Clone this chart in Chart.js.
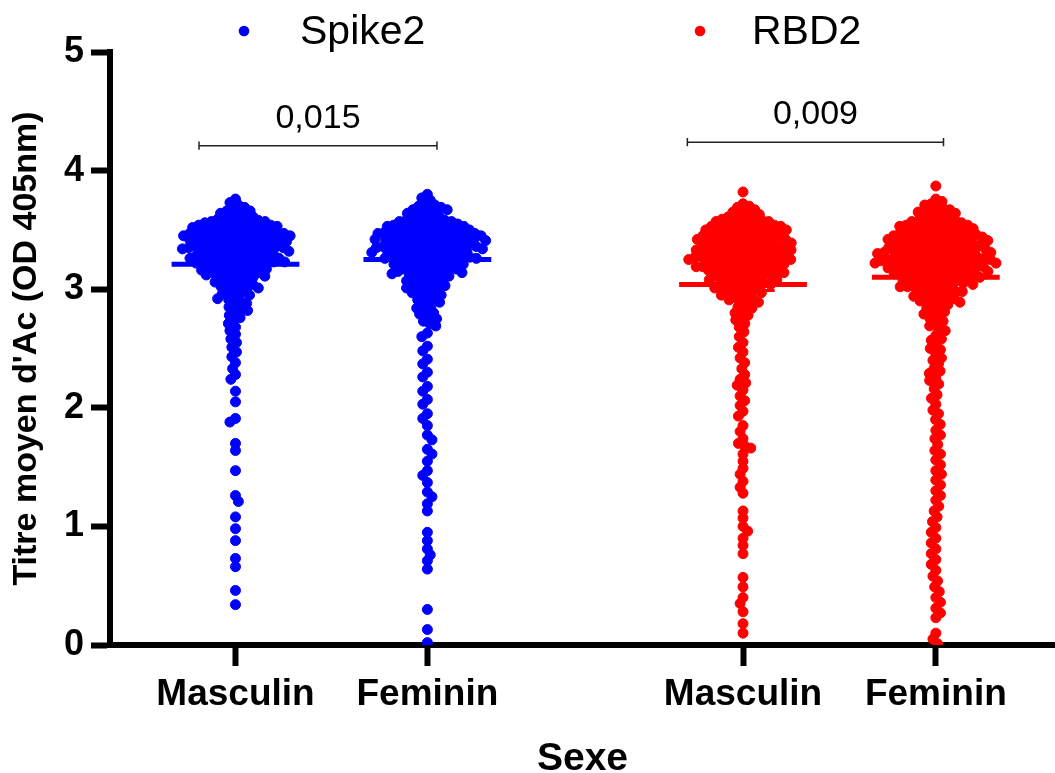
<!DOCTYPE html>
<html><head><meta charset="utf-8">
<script src="https://cdn.jsdelivr.net/npm/chart.js@4.4.1/dist/chart.umd.min.js"></script>
<style>html,body{margin:0;padding:0;background:#fff;overflow:hidden}#wrap{width:1055px;height:773px}</style>
</head><body><div id="wrap"><canvas id="c" width="1055" height="773"></canvas></div>
<script>
// ---------------- data ----------------
const categories = ['Masculin', 'Feminin', 'Masculin', 'Feminin'];
const seriesNames = ['Spike2', 'RBD2'];
const yAxisTitle = "Titre moyen d'Ac (OD 405nm)";
const xAxisTitle = 'Sexe';

const spikeMasc = [3.76,3.73,3.71,
3.69,3.68,3.66,3.66,3.65,3.64,3.63,3.62,3.61,3.60,
3.59,3.59,3.58,3.58,3.57,3.57,3.56,3.56,3.55,3.55,3.54,3.54,3.54,3.53,3.53,3.52,3.52,3.52,3.51,3.51,3.50,3.50,
3.49,3.49,3.49,3.48,3.48,3.48,3.47,3.47,3.47,3.46,3.46,3.46,3.45,3.45,3.45,3.44,3.44,3.44,3.43,3.43,3.43,3.42,3.42,3.42,3.41,3.41,3.41,3.40,3.40,
3.39,3.39,3.38,3.38,3.38,3.37,3.37,3.37,3.36,3.36,3.36,3.35,3.35,3.35,3.34,3.34,3.34,3.33,3.33,3.33,3.32,3.32,3.32,3.31,3.31,3.30,3.30,
3.29,3.29,3.28,3.28,3.28,3.27,3.27,3.27,3.26,3.26,3.26,3.25,3.25,3.25,3.24,3.24,3.23,3.23,3.23,3.22,3.22,3.21,3.21,3.21,3.20,
3.19,3.19,3.18,3.18,3.17,3.17,3.16,3.16,3.15,3.15,3.14,3.14,3.13,3.13,3.12,3.12,3.11,3.11,3.10,
3.09,3.08,3.07,3.06,3.06,3.05,3.04,3.03,3.02,3.02,3.01,3.00,
2.99,2.97,2.96,2.96,2.95,2.93,2.92,2.91,2.90,
2.88,2.86,2.85,2.83,2.82,2.80,
2.78,2.76,2.74,2.71,2.68,2.65,2.62,2.58,2.55,2.51,2.47,2.43,2.38,2.33,2.28,2.24,
2.14,2.05,1.91,1.88,1.70,1.64,1.47,1.26,1.21,1.08,0.98,0.88,0.73,0.66,0.46,0.34];

const spikeFem = [3.80,3.77,3.75,3.72,3.71,
3.70,3.69,3.68,3.67,3.67,3.66,3.65,3.64,3.63,3.62,3.61,
3.60,3.59,3.59,3.58,3.58,3.57,3.57,3.56,3.56,3.55,3.55,3.54,3.54,3.53,3.53,3.53,3.52,3.52,3.51,3.51,3.50,3.50,3.50,
3.49,3.49,3.49,3.48,3.48,3.48,3.47,3.47,3.47,3.46,3.46,3.46,3.45,3.45,3.45,3.44,3.44,3.44,3.43,3.43,3.43,3.42,3.42,3.42,3.41,3.41,3.41,3.41,3.40,3.40,
3.39,3.39,3.39,3.38,3.38,3.38,3.37,3.37,3.37,3.36,3.36,3.36,3.35,3.35,3.35,3.34,3.34,3.34,3.33,3.33,3.33,3.32,3.32,3.32,3.31,3.31,3.31,3.30,3.30,
3.29,3.29,3.28,3.28,3.28,3.27,3.27,3.27,3.26,3.26,3.26,3.25,3.25,3.25,3.24,3.24,3.23,3.23,3.22,3.22,3.21,3.21,3.20,
3.19,3.19,3.18,3.18,3.17,3.17,3.16,3.16,3.15,3.15,3.14,3.14,3.13,3.13,3.12,3.12,3.11,3.10,
3.09,3.08,3.08,3.07,3.06,3.05,3.04,3.03,3.03,3.02,3.01,3.00,
2.99,2.98,2.97,2.96,2.95,2.94,2.92,2.91,2.90,
2.89,2.87,2.85,2.84,2.82,2.80,
2.79,2.77,2.75,2.73,2.71,
2.69,2.63,2.60,2.52,2.48,2.41,2.37,2.30,2.26,2.18,2.14,2.07,2.03,1.95,1.91,1.85,1.77,1.73,1.65,1.61,1.55,1.47,1.43,1.37,1.29,1.25,1.19,1.13,
0.95,0.88,0.81,0.76,0.71,0.64,0.30,0.13,0.02];

const rbdMasc = [3.82,3.72,3.70,
3.69,3.67,3.66,3.65,3.64,3.63,3.62,3.61,3.60,
3.59,3.59,3.58,3.58,3.57,3.57,3.56,3.55,3.55,3.55,3.54,3.53,3.53,3.53,3.52,3.52,3.51,3.51,3.50,3.50,3.50,
3.49,3.49,3.48,3.48,3.47,3.47,3.46,3.46,3.46,3.45,3.45,3.44,3.44,3.43,3.43,3.43,3.42,3.42,3.42,3.41,3.41,3.41,3.40,3.40,
3.39,3.39,3.39,3.38,3.38,3.37,3.37,3.37,3.36,3.36,3.35,3.35,3.35,3.34,3.34,3.34,3.33,3.33,3.33,3.32,3.32,3.31,3.31,3.31,3.30,3.30,
3.29,3.29,3.29,3.28,3.28,3.27,3.27,3.27,3.27,3.26,3.26,3.25,3.25,3.25,3.25,3.24,3.24,3.23,3.23,3.23,3.22,3.22,3.21,3.21,3.21,3.20,3.20,
3.19,3.19,3.19,3.18,3.18,3.17,3.17,3.17,3.16,3.16,3.15,3.15,3.15,3.14,3.14,3.13,3.13,3.12,3.12,3.11,3.11,3.10,3.10,
3.09,3.09,3.08,3.08,3.07,3.07,3.06,3.05,3.05,3.04,3.04,3.03,3.02,3.02,3.01,3.01,3.00,
2.99,2.98,2.97,2.97,2.96,2.95,2.93,2.93,2.92,2.91,2.90,
2.89,2.87,2.85,2.84,2.82,2.80,
2.78,2.76,2.74,2.71,
2.68,2.64,2.60,2.55,2.51,2.47,2.42,2.38,2.33,2.28,2.24,2.21,2.19,2.15,2.10,2.06,2.02,1.97,1.93,
1.85,1.80,1.74,1.70,1.68,1.66,1.61,1.55,1.49,1.44,1.38,1.33,1.28,
1.13,1.07,1.00,0.96,0.90,0.84,0.77,0.57,0.49,0.40,0.35,0.28,0.18,0.10];

const rbdFem = [3.87,3.76,3.74,3.72,3.71,
3.69,3.68,3.67,3.66,3.65,3.65,3.64,3.63,3.62,3.61,3.60,
3.59,3.58,3.58,3.57,3.57,3.56,3.56,3.55,3.54,3.54,3.54,3.53,3.53,3.52,3.52,3.51,3.51,3.51,3.50,
3.49,3.49,3.48,3.48,3.48,3.47,3.47,3.46,3.46,3.46,3.45,3.45,3.45,3.44,3.44,3.43,3.43,3.43,3.42,3.42,3.42,3.41,3.41,3.41,3.40,3.40,
3.39,3.39,3.39,3.38,3.38,3.38,3.37,3.37,3.36,3.36,3.36,3.35,3.35,3.35,3.34,3.34,3.34,3.33,3.33,3.33,3.32,3.32,3.32,3.31,3.31,3.31,3.30,3.30,3.30,
3.29,3.29,3.29,3.28,3.28,3.28,3.27,3.27,3.27,3.26,3.26,3.26,3.25,3.25,3.25,3.24,3.24,3.24,3.24,3.23,3.23,3.22,3.22,3.22,3.22,3.21,3.21,3.20,3.20,3.20,3.20,
3.19,3.19,3.18,3.18,3.18,3.17,3.17,3.16,3.16,3.16,3.15,3.15,3.15,3.14,3.14,3.14,3.13,3.13,3.12,3.12,3.12,3.11,3.11,3.10,3.10,
3.09,3.09,3.09,3.08,3.08,3.07,3.07,3.06,3.06,3.05,3.05,3.04,3.04,3.03,3.02,3.02,3.02,3.01,3.00,3.00,
2.99,2.98,2.98,2.97,2.96,2.95,2.94,2.94,2.93,2.92,2.91,2.90,2.90,
2.89,2.88,2.87,2.86,2.84,2.83,2.81,2.80,
2.79,2.77,2.75,2.73,2.71,
2.69,2.66,2.65,2.61,2.58,2.57,2.53,2.50,2.49,2.45,2.42,2.40,2.37,2.33,2.31,2.29,2.25,2.23,2.20,
2.16,2.11,2.08,2.03,1.98,1.95,1.90,1.86,1.81,1.77,1.74,1.69,1.64,1.61,1.56,1.52,1.47,1.44,1.39,1.35,
1.30,1.26,1.22,1.17,1.13,1.08,1.04,0.99,0.95,0.90,0.86,0.81,0.77,0.72,0.68,0.63,0.58,0.54,0.49,0.45,
0.40,0.36,0.31,0.27,0.23,0.10,0.05,0.01];

const groupMeans = [3.21, 3.25, 3.04, 3.10];
const rbdMascInnerLine = 2.99;
const pValues = ['0,015', '0,009'];
const pBracketY = [4.21, 4.24];
const yTickValues = [0, 1, 2, 3, 4, 5];

// ---------------- layout (not data) ----------------
const slotX = [1, 2, 3.645, 4.65];
const bracketX = [[0.81, 2.05], [3.355, 4.69]];
const BLUE = '#0000FF', RED = '#FF0000';
const FONT = "'Liberation Sans', Arial, Helvetica, sans-serif";

function lineDs(points, color, width) {
  return { type: 'scatter', data: points, showLine: true, borderColor: color, backgroundColor: color,
           borderWidth: width, pointRadius: 0, pointHoverRadius: 0, fill: false, tension: 0 };
}

const datasets = [
  { label: seriesNames[0], data: [], backgroundColor: BLUE, borderColor: BLUE, pointRadius: 5, pointBorderWidth: 1, pointHoverRadius: 5 },
  { label: seriesNames[1], data: [], backgroundColor: RED, borderColor: RED, pointRadius: 5, pointBorderWidth: 1, pointHoverRadius: 5 }
];
groupMeans.forEach((m, i) => {
  const c = i < 2 ? BLUE : RED;
  datasets.push(lineDs([{x: slotX[i] - 0.333, y: m}, {x: slotX[i] + 0.333, y: m}], c, 5));
});
datasets.push(lineDs([{x: slotX[2] - 0.165, y: rbdMascInnerLine}, {x: slotX[2] + 0.165, y: rbdMascInnerLine}], RED, 3));
const dY = 0.035;
pBracketY.forEach((yb, i) => {
  const [x1, x2] = bracketX[i];
  datasets.push(lineDs([{x:x1,y:yb+dY},{x:x1,y:yb-dY},{x:x1,y:yb},{x:x2,y:yb},{x:x2,y:yb+dY},{x:x2,y:yb-dY}], '#222', 1.5));
});

const overlay = {
  id: 'overlay',
  afterDatasetsDraw(chart) {
    const ctx = chart.ctx, xs = chart.scales.x, ys = chart.scales.y;
    ctx.save();
    ctx.fillStyle = '#000';
    ctx.font = '34px ' + FONT;
    ctx.textAlign = 'center';
    ctx.textBaseline = 'alphabetic';
    pValues.forEach((t, i) => {
      const [x1, x2] = bracketX[i];
      const cx = (xs.getPixelForValue(x1) + xs.getPixelForValue(x2)) / 2;
      ctx.fillText(t, cx, ys.getPixelForValue(pBracketY[i]) - 18);
    });
    // legend
    const legendPos = [[244, 300], [700, 752]];
    ctx.font = '41px ' + FONT;
    ctx.textAlign = 'left';
    chart.data.datasets.slice(0, 2).forEach((ds, i) => {
      ctx.fillStyle = ds.backgroundColor;
      ctx.beginPath(); ctx.arc(legendPos[i][0], 31, 5.3, 0, Math.PI * 2); ctx.fill();
      ctx.fillStyle = '#000';
      ctx.fillText(ds.label, legendPos[i][1], 44);
    });
    ctx.restore();
  }
};

const chart = new Chart(document.getElementById('c'), {
  type: 'scatter',
  data: { datasets },
  options: {
    responsive: false, animation: false, devicePixelRatio: 1,
    layout: { autoPadding: false, padding: { top: 52, right: 0, bottom: 0, left: 0 } },
    plugins: { legend: { display: false }, tooltip: { enabled: false } },
    scales: {
      x: {
        type: 'linear', min: 0.346, max: 5.271,
        afterBuildTicks: s => { s.ticks = slotX.map(v => ({ value: v })); },
        afterFit: s => { s.height = 128; },
        ticks: { autoSkip: false, maxRotation: 0, color: '#000', padding: 7,
                 font: { family: FONT, size: 37, weight: 'bold' },
                 callback: (v, i) => categories[i] },
        grid: { drawOnChartArea: false, drawTicks: true, tickLength: 21, tickWidth: 6, tickColor: '#000', color: '#000' },
        border: { display: true, color: '#000', width: 6 },
        title: { display: true, text: xAxisTitle, color: '#000', font: { family: FONT, size: 39, weight: 'bold' },
                 padding: { top: 0, bottom: -10 } }
      },
      y: {
        min: 0, max: 5,
        afterBuildTicks: s => { s.ticks = yTickValues.map(v => ({ value: v })); },
        afterFit: s => { s.width = 110; },
        ticks: { color: '#000', padding: 7, font: { family: FONT, size: 36, weight: 'bold' } },
        grid: { drawOnChartArea: false, drawTicks: true, tickLength: 19, tickWidth: 6, tickColor: '#000', color: '#000' },
        border: { display: true, color: '#000', width: 6 },
        title: { display: true, text: yAxisTitle, color: '#000', font: { family: FONT, size: 34, weight: 'bold' },
                 padding: { top: 6, bottom: 0 } }
      }
    }
  },
  plugins: [overlay]
});

// beeswarm placement of the points (x offset only), computed in pixel space of the chart's scales
function beeswarm(values, slot, d) {
  const xs = chart.scales.x, ys = chart.scales.y;
  const cx = xs.getPixelForValue(slot);
  const items = values.map(v => ({ v, py: ys.getPixelForValue(v), px: cx }));
  const order = items.slice().sort((a, b) => b.v - a.v);
  const placed = [];
  let flip = 1;
  for (const p of order) {
    const cands = [cx];
    for (const q of placed) {
      const dy = Math.abs(q.py - p.py);
      if (dy < d) { const dx = Math.sqrt(d * d - dy * dy); cands.push(q.px + dx, q.px - dx); }
    }
    const key = a => Math.abs(a - cx) + (a < cx ? flip : -flip) * 0.01;
    cands.sort((a, b) => key(a) - key(b));
    let chosen = cx;
    for (const c of cands) {
      let ok = true;
      for (const q of placed) {
        const ddx = q.px - c, ddy = q.py - p.py;
        if (ddx * ddx + ddy * ddy < d * d - 0.01) { ok = false; break; }
      }
      if (ok) { chosen = c; break; }
    }
    p.px = chosen; placed.push(p); flip = -flip;
  }
  return items.map(p => ({ x: xs.getValueForPixel(p.px), y: p.v }));
}

const SW = 6.6;
chart.data.datasets[0].data = beeswarm(spikeMasc, slotX[0], SW).concat(beeswarm(spikeFem, slotX[1], SW));
chart.data.datasets[1].data = beeswarm(rbdMasc, slotX[2], SW).concat(beeswarm(rbdFem, slotX[3], SW));
chart.update('none');
</script>
</body></html>
